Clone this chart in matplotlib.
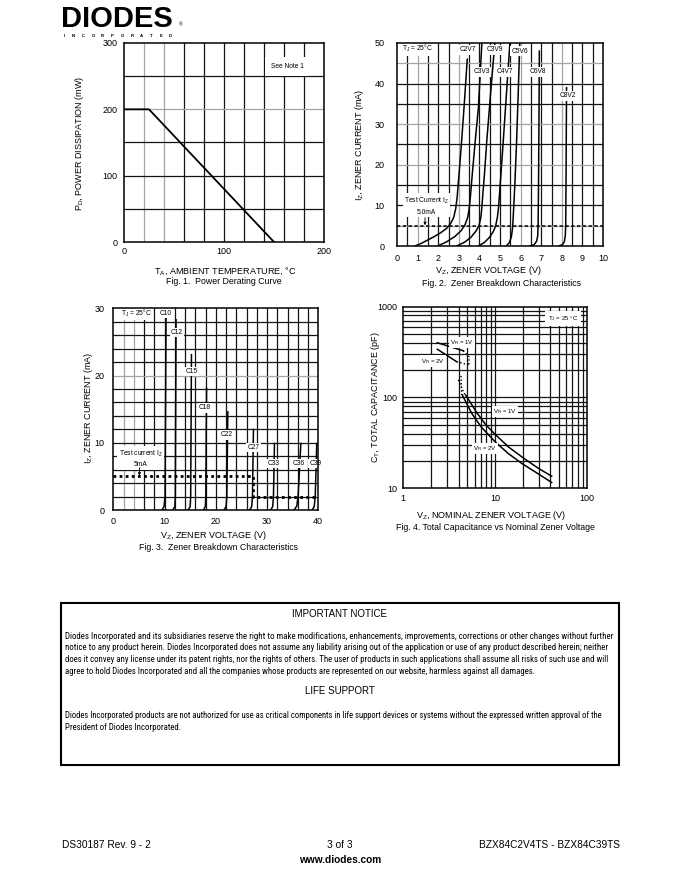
import matplotlib
matplotlib.use('Agg')
import matplotlib.pyplot as plt
from matplotlib import font_manager as fm
from matplotlib.patches import Rectangle

plt.rcParams['font.family'] = ['Liberation Sans', 'DejaVu Sans']
plt.rcParams['mathtext.fontset'] = 'custom'
plt.rcParams['mathtext.rm'] = 'Liberation Sans'
plt.rcParams['mathtext.it'] = 'Liberation Sans:italic'
plt.rcParams['mathtext.bf'] = 'Liberation Sans:bold'
plt.rcParams['mathtext.default'] = 'regular'

W, H, DPI = 680, 880, 100

# ------------------------------------------------------------------ data
# Fig. 1  power derating
fig1_temp = [0, 25, 150]
fig1_power = [200, 200, 0]
fig1_xticks = [0, 100, 200]
fig1_yticks = [0, 100, 200, 300]

# Fig. 2  zener breakdown, low voltage types (V, mA)
fig2_names = ['C2V7', 'C3V3', 'C3V9', 'C4V7', 'C5V6', 'C6V8', 'C8V2']
c2v7_v = [0.87, 1.2, 1.5, 1.8, 2.1, 2.4, 2.6, 2.75, 2.85, 2.92, 3.0, 3.14, 3.28, 3.41]
c2v7_i = [0, 0.7, 1.5, 2.3, 3.2, 4.3, 5.5, 7.0, 9.2, 12, 17, 26, 36, 46]
c3v3_v = [1.97, 2.4, 2.8, 3.1, 3.3, 3.43, 3.5, 3.56, 3.66, 3.8, 3.95, 4.12]
c3v3_i = [0, 1.0, 2.3, 3.7, 5.2, 7.0, 9.0, 12, 18, 26, 34, 50]
c3v9_v = [2.9, 3.3, 3.6, 3.85, 3.98, 4.07, 4.12, 4.17, 4.25, 4.36, 4.55, 4.75]
c3v9_i = [0, 1.0, 2.2, 3.8, 5.0, 7.0, 9.5, 13, 18, 26, 38, 50]
c4v7_v = [3.95, 4.25, 4.5, 4.68, 4.79, 4.87, 4.93, 4.98, 5.05, 5.16, 5.32, 5.48]
c4v7_i = [0, 0.9, 2.2, 3.6, 5.0, 7.0, 9.5, 13, 18, 26, 38, 50]
c5v6_v = [5.3, 5.45, 5.55, 5.6, 5.63, 5.66, 5.72, 5.8, 5.88, 5.96]
c5v6_i = [0, 0.8, 2.2, 4.0, 6.0, 9.0, 15, 25, 37, 50]
c6v8_v = [6.45, 6.65, 6.78, 6.83, 6.85, 6.87, 6.89, 6.91]
c6v8_i = [0, 0.3, 1.2, 2.5, 5.0, 15, 30, 48]
c8v2_v = [7.85, 8.02, 8.12, 8.17, 8.19, 8.21, 8.23]
c8v2_i = [0, 0.3, 1.0, 2.5, 5.0, 20, 39]
fig2_label_x = [3.42, 4.1, 4.73, 5.22, 5.96, 6.85, 8.29]
fig2_label_y = [48.3, 42.9, 48.3, 42.9, 48.0, 42.9, 37.0]
fig2_test_v = [0, 10]
fig2_test_i = [5, 5]
fig2_xticks = list(range(0, 11))
fig2_yticks = [0, 10, 20, 30, 40, 50]

# Fig. 3  zener breakdown, high voltage types (V, mA)
fig3_names = ['C10', 'C12', 'C15', 'C18', 'C22', 'C27', 'C33', 'C36', 'C39']
c10_v = [9.5, 9.9, 10.1, 10.3];    c10_i = [0, 0.5, 2.0, 30]
c12_v = [11.6, 12.0, 12.1, 12.25]; c12_i = [0, 0.5, 2.0, 28.3]
c15_v = [14.6, 15.0, 15.1, 15.25]; c15_i = [0, 0.5, 2.0, 23.1]
c18_v = [17.6, 17.95, 18.05, 18.2]; c18_i = [0, 0.5, 2.0, 18.1]
c22_v = [21.6, 22.0, 22.15, 22.35]; c22_i = [0, 0.5, 2.0, 14.6]
c27_v = [26.6, 27.0, 27.15, 27.35]; c27_i = [0, 0.5, 2.0, 12.0]
c33_v = [30.7, 31.1, 31.25, 31.45]; c33_i = [0, 0.5, 2.0, 9.9]
c36_v = [35.3, 35.8, 36.05, 36.6];  c36_i = [0, 0.6, 2.0, 9.9]
c39_v = [38.8, 39.2, 39.4, 39.7];   c39_i = [0, 0.5, 2.0, 9.9]
fig3_label_x = [10.3, 12.4, 15.3, 17.9, 22.1, 27.3, 31.2, 36.1, 39.5]
fig3_label_y = [29.3, 26.4, 20.6, 15.2, 11.2, 9.3, 6.9, 6.9, 6.9]
fig3_test_v = [0, 27.3, 27.3, 39.5]
fig3_test_i = [5, 5, 2, 2]
fig3_xticks = [0, 10, 20, 30, 40]
fig3_yticks = [0, 10, 20, 30]

# Fig. 4  total capacitance vs nominal zener voltage (V, pF)
vr1_a_v = [2.35, 3.25, 4.51];        vr1_a_c = [401, 362, 327]
vr2_a_v = [2.35, 3.0, 3.82];         vr2_a_c = [340, 290, 248]
vr1_dot_v = [4.51, 5.21, 5.21];      vr1_dot_c = [327, 281, 228]
vr2_dot_v = [3.82, 5.21];            vr2_dot_c = [248, 228]
mid1_dot_v = [4.26, 4.33];           mid1_dot_c = [173, 106.5]
mid2_dot_v = [3.98, 4.79];           mid2_dot_c = [156, 102]
vr1_b_v = [4.79, 6.31, 7.94, 10.0, 14.0, 19.6, 29.7, 41.5]
vr1_b_c = [106.5, 68.4, 50.1, 39.4, 28.6, 22.2, 16.6, 13.6]
vr2_b_v = [4.40, 5.57, 7.08, 10.0, 14.0, 19.6, 29.7, 41.5]
vr2_b_c = [106.5, 67.0, 47.3, 32.6, 24.1, 18.8, 14.4, 11.6]
fig4_xticks = [1, 10, 100]
fig4_yticks = [10, 100, 1000]

# ------------------------------------------------------------------ helpers
fig = plt.figure(figsize=(W / DPI, H / DPI), dpi=DPI)
fig.patch.set_facecolor('white')

DARK = '#141414'
LIGHT = '#a5a5a5'


def add_ax(l, t, r, b):
    return fig.add_axes([l / W, 1 - b / H, (r - l) / W, (b - t) / H])


def ftext(x, y, s, **kw):
    kw.setdefault('ha', 'center')
    kw.setdefault('va', 'center')
    return fig.text(x / W, 1 - y / H, s, **kw)


def style(ax, xpad, ypad):
    for s in ax.spines.values():
        s.set_linewidth(1.1)
        s.set_color('black')
        s.set_zorder(6)
    ax.tick_params(which='both', length=0, labelsize=6.5, colors='black')
    ax.tick_params(axis='x', pad=xpad)
    ax.tick_params(axis='y', pad=ypad)
    ax.set_facecolor('white')


def grid(ax, xs, ys, light_x=(), light_y=(), lw=0.9):
    for x in xs:
        c = LIGHT if any(abs(x - q) < 1e-9 for q in light_x) else DARK
        ax.axvline(x, color=c, lw=lw, zorder=1)
    for y in ys:
        c = LIGHT if any(abs(y - q) < 1e-9 for q in light_y) else DARK
        ax.axhline(y, color=c, lw=lw, zorder=1)


WBOX = dict(boxstyle='square,pad=0.2', fc='white', ec='none')
LBL = 4.8

# ------------------------------------------------------------------ Fig. 1
ax1 = add_ax(124, 43, 324, 242)
style(ax1, 3.5, 4.5)
ax1.set_xlim(0, 200)
ax1.set_ylim(0, 300)
ax1.set_xticks(fig1_xticks)
ax1.set_yticks(fig1_yticks)
grid(ax1, [20 * k for k in range(1, 10)], [50 * k for k in range(1, 6)],
     light_x=(20, 40), light_y=(200,))
ax1.plot(fig1_temp, fig1_power, color='black', lw=1.3, zorder=4)
ax1.text(163, 264, 'See Note 1', fontsize=LBL, ha='center', va='center',
         bbox=dict(boxstyle='square,pad=0.9', fc='white', ec='none'), zorder=3)
ftext(80, 143, 'P$_\\mathrm{D}$, POWER DISSIPATION (mW)', rotation=90, fontsize=6.5)
ftext(225, 271, 'T$_\\mathrm{A}$, AMBIENT TEMPERATURE, °C', fontsize=6.5)
ftext(224, 282, 'Fig. 1.  Power Derating Curve', fontsize=6.3)

# ------------------------------------------------------------------ Fig. 2
ax2 = add_ax(397, 43, 603, 246)
style(ax2, 5.5, 9)
ax2.set_xlim(0, 10)
ax2.set_ylim(0, 50)
ax2.set_xticks(fig2_xticks)
ax2.set_yticks(fig2_yticks)
grid(ax2, [0.5 * k for k in range(1, 20)], [5 * k for k in range(1, 10)],
     light_x=(1, 3, 6, 8), light_y=(5, 20, 30, 45))
ax2.plot(fig2_test_v, fig2_test_i, color='black', lw=1.1, ls=(0, (2.2, 1.6)), zorder=3)
fig2_curves = [(c2v7_v, c2v7_i), (c3v3_v, c3v3_i), (c3v9_v, c3v9_i), (c4v7_v, c4v7_i),
               (c5v6_v, c5v6_i), (c6v8_v, c6v8_i), (c8v2_v, c8v2_i)]
for (v, i) in fig2_curves:
    ax2.plot(v, i, color='black', lw=1.1, zorder=4, clip_on=True)
for name, x, y in zip(fig2_names, fig2_label_x, fig2_label_y):
    ax2.text(x, y, name, fontsize=LBL, ha='center', va='center', bbox=WBOX, zorder=5)
ax2.text(0.25, 48.6, 'T$_\\mathrm{J}$ = 25°C', fontsize=LBL, ha='left', va='center',
         bbox=WBOX, zorder=5)
ax2.text(1.43, 9.9, 'Test Current I$_\\mathrm{Z}$\n5.0mA', fontsize=LBL, ha='center',
         va='center', linespacing=1.5, bbox=WBOX, zorder=5)
ax2.annotate('', xy=(1.36, 5.1), xytext=(1.36, 7.0),
             arrowprops=dict(arrowstyle='-|>', lw=0.6, color='black',
                             mutation_scale=4, shrinkA=0, shrinkB=0), zorder=6)
ftext(360, 145, 'I$_\\mathrm{Z}$, ZENER CURRENT (mA)', rotation=90, fontsize=6.5)
ftext(488, 270, 'V$_\\mathrm{Z}$, ZENER VOLTAGE (V)', fontsize=6.5)
ftext(502, 283, 'Fig. 2.  Zener Breakdown Characteristics', fontsize=6.3)

# ------------------------------------------------------------------ Fig. 3
ax3 = add_ax(113.3, 308.3, 318.3, 510)
style(ax3, 5, 6.5)
ax3.set_xlim(0, 40)
ax3.set_ylim(0, 30)
ax3.set_xticks(fig3_xticks)
ax3.set_yticks(fig3_yticks)
grid(ax3, [2 * k for k in range(1, 20)], [2 * k for k in range(1, 15)],
     light_x=(2, 4), light_y=(20,))
ax3.plot(fig3_test_v, fig3_test_i, color='black', lw=2.0, ls=(0, (1.0, 1.2)), zorder=3)
fig3_curves = [(c10_v, c10_i), (c12_v, c12_i), (c15_v, c15_i), (c18_v, c18_i),
               (c22_v, c22_i), (c27_v, c27_i), (c33_v, c33_i), (c36_v, c36_i),
               (c39_v, c39_i)]
for (v, i) in fig3_curves:
    ax3.plot(v, i, color='black', lw=1.1, zorder=4)
for name, x, y in zip(fig3_names, fig3_label_x, fig3_label_y):
    ax3.text(x, y, name, fontsize=LBL, ha='center', va='center', bbox=WBOX, zorder=5)
ax3.text(1.5, 29.3, 'T$_\\mathrm{J}$ = 25°C', fontsize=LBL, ha='left', va='center',
         bbox=WBOX, zorder=5)
ax3.text(5.3, 7.65, 'Test current I$_\\mathrm{Z}$\n5mA', fontsize=LBL, ha='center',
         va='center', linespacing=1.5, bbox=WBOX, zorder=5)
ax3.annotate('', xy=(5.1, 5.1), xytext=(5.1, 6.3),
             arrowprops=dict(arrowstyle='-|>', lw=0.6, color='black',
                             mutation_scale=4, shrinkA=0, shrinkB=0), zorder=6)
ftext(88, 408, 'I$_\\mathrm{Z}$, ZENER CURRENT (mA)', rotation=90, fontsize=6.5)
ftext(213, 535, 'V$_\\mathrm{Z}$, ZENER VOLTAGE (V)', fontsize=6.5)
ftext(218, 547, 'Fig. 3.  Zener Breakdown Characteristics', fontsize=6.3)

# ------------------------------------------------------------------ Fig. 4
ax4 = add_ax(403.3, 306.7, 586.7, 488.3)
ax4.set_xscale('log')
ax4.set_yscale('log')
style(ax4, 4, 4.5)
ax4.set_xlim(1, 100)
ax4.set_ylim(10, 1000)
ax4.set_xticks(fig4_xticks)
ax4.set_xticklabels([str(t) for t in fig4_xticks])
ax4.set_yticks(fig4_yticks)
ax4.set_yticklabels([str(t) for t in fig4_yticks])
ax4.minorticks_off()
gx = [k for k in range(2, 10)] + [10] + [10 * k for k in range(2, 10)]
gy = [10 * k for k in range(2, 10)] + [100] + [100 * k for k in range(2, 10)]
grid(ax4, gx, gy)
for v, c in [(vr1_a_v, vr1_a_c), (vr2_a_v, vr2_a_c), (vr1_b_v, vr1_b_c), (vr2_b_v, vr2_b_c)]:
    ax4.plot(v, c, color='black', lw=1.1, zorder=4)
for v, c in [(vr1_dot_v, vr1_dot_c), (vr2_dot_v, vr2_dot_c),
             (mid1_dot_v, mid1_dot_c), (mid2_dot_v, mid2_dot_c)]:
    ax4.plot(v, c, color='black', lw=1.0, ls=(0, (1.0, 1.6)), zorder=4)
F4 = 4.4
ax4.text(4.33, 401, 'V$_\\mathrm{R}$ = 1V', fontsize=F4, ha='center', va='center', bbox=WBOX, zorder=5)
ax4.text(2.12, 252, 'V$_\\mathrm{R}$ = 2V', fontsize=F4, ha='center', va='center', bbox=WBOX, zorder=5)
ax4.text(12.8, 69.6, 'V$_\\mathrm{R}$ = 1V', fontsize=F4, ha='center', va='center', bbox=WBOX, zorder=5)
ax4.text(7.8, 27.6, 'V$_\\mathrm{R}$ = 2V', fontsize=F4, ha='center', va='center', bbox=WBOX, zorder=5)
ax4.text(55.6, 745, 'T$_\\mathrm{J}$ = 25 °C', fontsize=F4, ha='center', va='center',
         bbox=dict(boxstyle='square,pad=0.5', fc='white', ec='none'), zorder=5)
ftext(375, 397, 'C$_\\mathrm{T}$, TOTAL CAPACITANCE (pF)', rotation=90, fontsize=6.5)
ftext(491, 515, 'V$_\\mathrm{Z}$, NOMINAL ZENER VOLTAGE (V)', fontsize=6.5)
ftext(495, 527, 'Fig. 4. Total Capacitance vs Nominal Zener Voltage', fontsize=6.3)

# ------------------------------------------------------------------ logo
ftext(61, 27, 'DIODES', fontsize=21, fontweight='bold', ha='left', va='baseline')
inc = 'INCORPORATED'
for k, ch in enumerate(inc):
    ftext(64 + k * 9.7, 35.8, ch, fontsize=3.2, fontweight='bold')
ftext(181, 25, '®', fontsize=3.5)

# ------------------------------------------------------------------ notice box
fig.patches.append(Rectangle((61 / W, 1 - 765 / H), (619 - 61) / W, (765 - 603) / H,
                             transform=fig.transFigure, fill=False, ec='black', lw=1.5))
ftext(340, 614, 'IMPORTANT NOTICE', fontsize=7)
ftext(340, 691, 'LIFE SUPPORT', fontsize=7)

names = {f.name for f in fm.fontManager.ttflist}
body_font = 'Liberation Sans'
for cand in ['Liberation Sans Narrow', 'Arial Narrow', 'Roboto Condensed',
             'Nimbus Sans Narrow', 'Open Sans Condensed', 'Roboto']:
    if cand in names:
        body_font = cand
        break

para1 = ["Diodes Incorporated and its subsidiaries reserve the right to make modifications, enhancements, improvements, corrections or other changes without further",
         "notice to any product herein. Diodes Incorporated does not assume any liability arising out of the application or use of any product described herein; neither",
         "does it convey any license under its patent rights, nor the rights of others. The user of products in such applications shall assume all risks of such use and will",
         "agree to hold Diodes Incorporated and all the companies whose products are represented on our website, harmless against all damages."]
para2 = ["Diodes Incorporated products are not authorized for use as critical components in life support devices or systems without the expressed written approval of the",
         "President of Diodes Incorporated."]
line_y1 = [636, 648, 659.5, 671]
line_y2 = [715, 727]

base = 6.6
objs1 = [ftext(65, y, s, fontsize=base, ha='left', family=body_font) for s, y in zip(para1, line_y1)]
objs2 = [ftext(65, y, s, fontsize=base, ha='left', family=body_font) for s, y in zip(para2, line_y2)]
fig.canvas.draw()
r = fig.canvas.get_renderer()
target = 614 - 65
scales = []
for t in objs1[:3] + objs2[:1]:
    wdt = t.get_window_extent(r).width
    s = target / wdt
    scales.append(s)
    t.set_fontsize(base * s)
avg = sum(scales) / len(scales)
objs1[3].set_fontsize(base * avg)
objs2[1].set_fontsize(base * avg)

# ------------------------------------------------------------------ footer
ftext(62, 845, 'DS30187 Rev. 9 - 2', fontsize=7.3, ha='left')
ftext(340, 845, '3 of 3', fontsize=7.3)
ftext(620, 845, 'BZX84C2V4TS - BZX84C39TS', fontsize=7.3, ha='right')
ftext(340, 860, 'www.diodes.com', fontsize=7.3, fontweight='bold')

fig.savefig('out.png', dpi=DPI, facecolor='white')
